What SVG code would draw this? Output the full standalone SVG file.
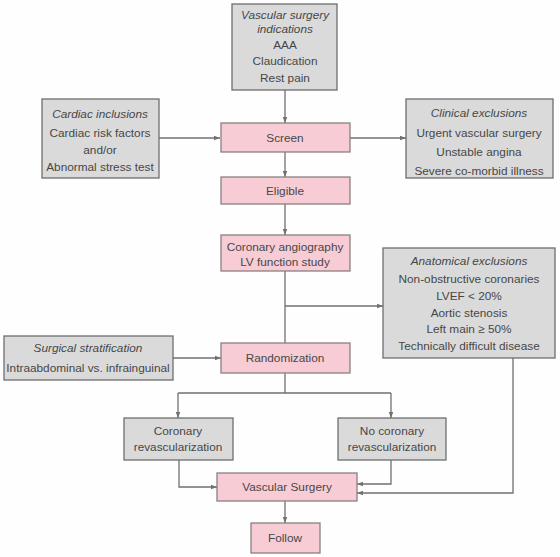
<svg xmlns="http://www.w3.org/2000/svg" width="560" height="557" viewBox="0 0 560 557">
<defs>
<marker id="ah" viewBox="0 0 8 8" refX="8" refY="4" markerWidth="6" markerHeight="6" orient="auto" markerUnits="userSpaceOnUse">
<path d="M0,1 L8,4 L0,7 Z" fill="#707070"/>
</marker>
<style>
.g{fill:#dadada;stroke:#6e6e6e;stroke-width:1.3}
.p{fill:#f8ccd5;stroke:#8a8080;stroke-width:1.3}
text{font-family:"Liberation Sans",Arial,sans-serif;font-size:11.8px;fill:#474747;text-anchor:middle}
.i{font-style:italic}
.c{fill:none;stroke:#707070;stroke-width:1.3;marker-end:url(#ah)}
.n{fill:none;stroke:#707070;stroke-width:1.3}
</style>
</defs>
<rect width="560" height="557" fill="#fefefe"/>
<g id="connectors">
<path class="c" d="M285,90 V123"/>
<path class="c" d="M159,138 H220"/>
<path class="c" d="M350,138 H406"/>
<path class="c" d="M285,152 V177"/>
<path class="c" d="M285,204 V235"/>
<path class="n" d="M285,271 V343"/>
<path class="c" d="M285,306 H383"/>
<path class="c" d="M173,358 H221"/>
<path class="n" d="M285,373 V393 M178,393 H391"/>
<path class="c" d="M178,393 V418"/>
<path class="c" d="M391,393 V418"/>
<path class="c" d="M179,460 V487 H217"/>
<path class="c" d="M391,460 V484 H357"/>
<path class="c" d="M513,358 V493 H357"/>
<path class="c" d="M285,501 V523"/>
</g>
<g id="indications">
<rect class="g" x="232" y="4" width="105" height="86"/>
<text class="i" x="285" y="19">Vascular surgery</text>
<text class="i" x="285" y="33">indications</text>
<text x="285" y="49">AAA</text>
<text x="285" y="65">Claudication</text>
<text x="285" y="82">Rest pain</text>
</g>
<g id="cardiac">
<rect class="g" x="42" y="99" width="117" height="79"/>
<text class="i" x="100" y="118">Cardiac inclusions</text>
<text x="100" y="137">Cardiac risk factors</text>
<text x="100" y="154">and/or</text>
<text x="100" y="171">Abnormal stress test</text>
</g>
<g id="clinical">
<rect class="g" x="406" y="99" width="147" height="79"/>
<text class="i" x="479" y="117">Clinical exclusions</text>
<text x="479" y="137">Urgent vascular surgery</text>
<text x="479" y="156">Unstable angina</text>
<text x="479" y="175">Severe co-morbid illness</text>
</g>
<g id="screen">
<rect class="p" x="221" y="123" width="129" height="29"/>
<text x="285" y="142">Screen</text>
</g>
<g id="eligible">
<rect class="p" x="221" y="177" width="129" height="27"/>
<text x="285" y="195">Eligible</text>
</g>
<g id="angio">
<rect class="p" x="221" y="235" width="129" height="36"/>
<text x="285" y="251">Coronary angiography</text>
<text x="285" y="266">LV function study</text>
</g>
<g id="anatomical">
<rect class="g" x="383" y="248" width="172" height="110"/>
<text class="i" x="469" y="265">Anatomical exclusions</text>
<text x="469" y="283">Non-obstructive coronaries</text>
<text x="469" y="300">LVEF &lt; 20%</text>
<text x="469" y="317">Aortic stenosis</text>
<text x="469" y="333">Left main ≥ 50%</text>
<text x="469" y="350">Technically difficult disease</text>
</g>
<g id="stratification">
<rect class="g" x="4" y="336" width="169" height="44"/>
<text class="i" x="88" y="352">Surgical stratification</text>
<text x="88" y="372">Intraabdominal vs. infrainguinal</text>
</g>
<g id="randomization">
<rect class="p" x="221" y="343" width="129" height="30"/>
<text x="285" y="362">Randomization</text>
</g>
<g id="revasc">
<rect class="g" x="124" y="418" width="109" height="42"/>
<text x="178" y="435">Coronary</text>
<text x="178" y="451">revascularization</text>
</g>
<g id="norevasc">
<rect class="g" x="338" y="418" width="108" height="42"/>
<text x="392" y="435">No coronary</text>
<text x="392" y="451">revascularization</text>
</g>
<g id="vascular">
<rect class="p" x="217" y="473" width="140" height="28"/>
<text x="287" y="491">Vascular Surgery</text>
</g>
<g id="follow">
<rect class="p" x="251" y="523" width="69" height="30"/>
<text x="285" y="542">Follow</text>
</g>
</svg>
